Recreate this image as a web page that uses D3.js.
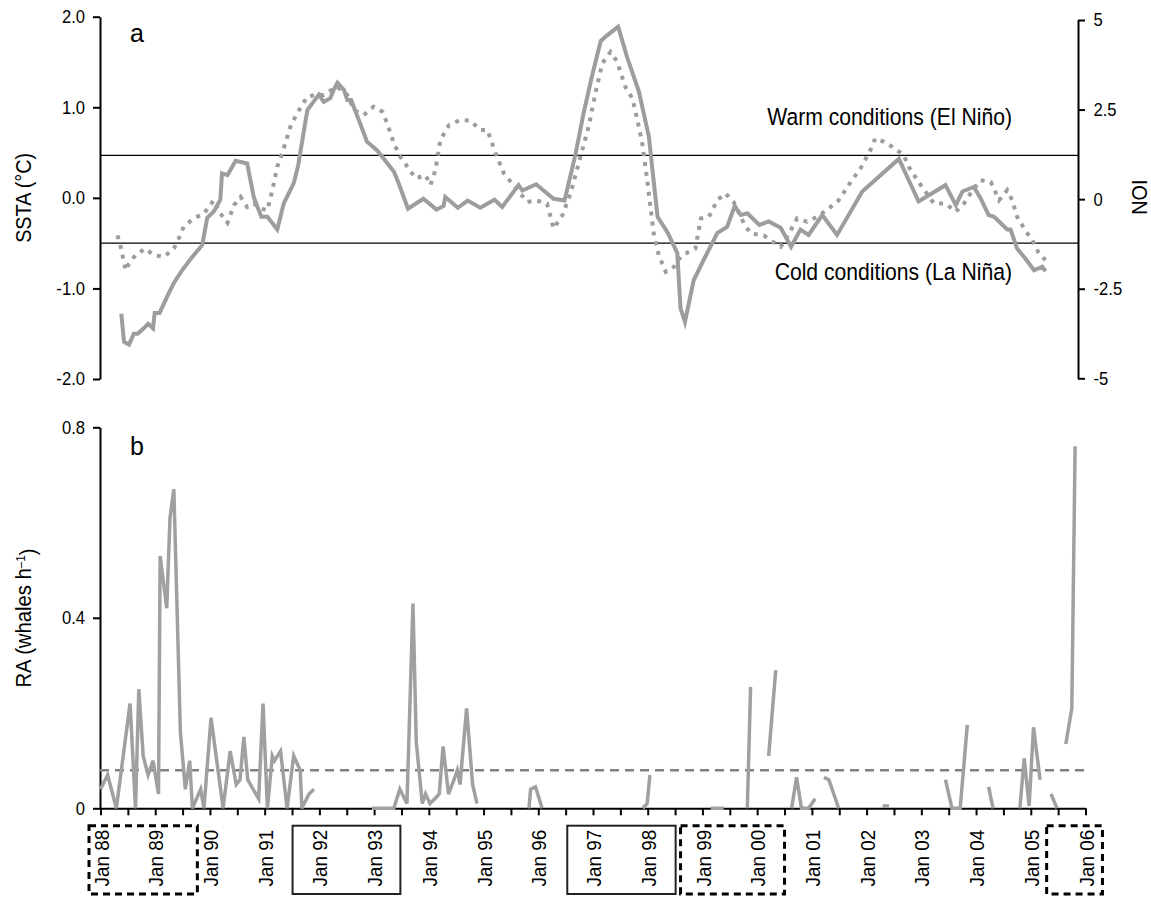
<!DOCTYPE html>
<html>
<head>
<meta charset="utf-8">
<script src="https://cdn.jsdelivr.net/npm/d3@7"></script>
<style>
  body { margin: 0; background: #fff; }
  svg { display: block; }
  text { font-family: "Liberation Sans", Arial, sans-serif; fill: #000; }
</style>
</head>
<body>
<div id="chart"></div>
<script>
// panel a: sea surface temperature anomaly (solid) and NOI (dotted)
const sstaYears = [1988.38,1988.43,1988.52,1988.61,1988.68,1988.79,1988.87,1988.96,1988.99,1989.08,
  1989.25,1989.34,1989.49,1989.68,1989.86,1989.95,1990.07,1990.19,1990.22,1990.32,
  1990.47,1990.68,1990.80,1990.94,1991.05,1991.23,1991.35,1991.53,1991.61,1991.78,
  1991.99,1992.08,1992.20,1992.26,1992.33,1992.45,1992.51,1992.58,1992.72,1992.87,
  1993.06,1993.36,1993.45,1993.54,1993.62,1993.90,1994.14,1994.27,1994.30,1994.53,
  1994.71,1994.94,1995.20,1995.34,1995.64,1995.71,1995.96,1996.28,1996.48,1996.68,
  1996.83,1996.98,1997.14,1997.23,1997.46,1997.62,1997.84,1998.02,1998.18,1998.37,
  1998.54,1998.60,1998.68,1998.84,1999.01,1999.27,1999.45,1999.59,1999.70,1999.82,
  2000.04,2000.21,2000.43,2000.62,2000.79,2000.94,2001.19,2001.46,2001.92,2002.59,
  2002.95,2003.44,2003.63,2003.75,2003.96,2004.08,2004.23,2004.33,2004.57,2004.63,
  2004.75,2004.90,2005.06,2005.21,2005.27];
const sstaValues = [-1.28,-1.59,-1.62,-1.50,-1.50,-1.44,-1.39,-1.44,-1.27,-1.27,
  -1.05,-0.94,-0.80,-0.65,-0.52,-0.22,-0.15,-0.02,0.27,0.25,
  0.41,0.38,0.01,-0.21,-0.21,-0.35,-0.06,0.16,0.35,0.97,
  1.14,1.06,1.10,1.19,1.27,1.19,1.08,1.08,0.86,0.62,
  0.52,0.29,0.16,0.01,-0.12,-0.01,-0.13,-0.09,0.01,-0.11,
  -0.03,-0.11,-0.02,-0.10,0.14,0.08,0.15,-0.01,-0.03,0.48,
  0.94,1.34,1.73,1.78,1.89,1.56,1.17,0.68,-0.21,-0.39,
  -0.61,-1.22,-1.37,-0.91,-0.70,-0.39,-0.32,-0.09,-0.19,-0.17,
  -0.30,-0.26,-0.33,-0.54,-0.35,-0.41,-0.19,-0.41,0.07,0.43,
  -0.04,0.14,-0.08,0.07,0.12,0.00,-0.19,-0.21,-0.35,-0.35,
  -0.56,-0.67,-0.80,-0.76,-0.81];

const noiYears = [1988.31,1988.37,1988.46,1988.52,1988.64,1988.82,1988.97,1989.16,1989.34,1989.43,
  1989.52,1989.70,1989.89,1990.07,1990.19,1990.32,1990.44,1990.56,1990.68,1990.80,
  1990.92,1991.05,1991.14,1991.23,1991.32,1991.47,1991.59,1991.78,1991.93,1992.08,
  1992.32,1992.51,1992.63,1992.81,1992.99,1993.15,1993.24,1993.36,1993.48,1993.61,
  1993.76,1993.94,1994.03,1994.12,1994.21,1994.37,1994.58,1994.76,1994.94,1995.07,
  1995.22,1995.37,1995.55,1995.80,1995.95,1996.16,1996.28,1996.44,1996.59,1996.77,
  1996.92,1997.05,1997.17,1997.32,1997.44,1997.59,1997.72,1997.81,1997.90,1997.99,
  1998.11,1998.20,1998.33,1998.48,1998.60,1998.75,1998.87,1998.97,1999.12,1999.27,
  1999.42,1999.57,1999.76,1999.88,2000.12,2000.37,2000.43,2000.58,2000.73,2000.91,
  2001.10,2001.31,2001.49,2001.71,2001.89,2002.07,2002.16,2002.32,2002.47,2002.68,
  2002.77,2002.99,2003.23,2003.44,2003.63,2003.78,2003.90,2004.08,2004.27,2004.42,
  2004.57,2004.66,2004.75,2004.90,2005.03,2005.15,2005.27];
const noiValues = [-1.01,-1.33,-1.99,-1.80,-1.56,-1.38,-1.56,-1.61,-1.38,-1.10,
  -0.77,-0.54,-0.40,-0.03,-0.40,-0.66,-0.17,0.06,-0.22,-0.12,
  -0.26,-0.31,0.25,0.90,1.28,2.02,2.39,2.86,2.91,2.91,
  3.14,2.91,2.49,2.35,2.58,2.44,2.11,1.56,1.18,0.90,
  0.58,0.67,0.39,0.81,1.65,2.07,2.21,2.19,1.93,1.93,
  1.28,0.72,0.39,-0.08,-0.03,-0.12,-0.82,-0.45,0.16,1.18,
  2.02,3.00,3.79,4.11,3.84,3.14,2.81,2.21,1.56,0.53,
  -0.96,-1.56,-2.03,-1.89,-1.61,-1.47,-1.38,-0.54,-0.49,-0.03,
  0.16,-0.08,-0.68,-0.96,-1.01,-1.28,-1.33,-0.96,-0.54,-0.63,
  -0.49,-0.26,-0.03,0.48,0.86,1.37,1.70,1.60,1.46,1.23,
  0.90,0.39,-0.12,-0.12,-0.35,-0.12,0.16,0.53,0.48,-0.03,
  0.25,-0.03,-0.49,-0.87,-1.15,-1.52,-1.70];

const warmThreshold = 0.47;  // °C
const coldThreshold = -0.5;

// panel b: relative abundance, null = no survey
const raYears = [1988.00,1988.13,1988.29,1988.54,1988.64,1988.70,1988.78,1988.87,1988.96,1989.06,
  1989.09,1989.21,1989.27,1989.34,1989.46,1989.55,1989.63,1989.68,1989.83,1989.89,
  1990.02,1990.24,1990.37,1990.48,1990.55,1990.62,1990.69,1990.89,1990.97,1991.05,
  1991.14,1991.18,1991.29,1991.41,1991.53,1991.65,1991.68,1991.81,1991.90,
  1992.40,
  1992.96,1993.36,1993.47,1993.60,1993.71,1993.77,1993.88,1993.94,1994.02,1994.11,
  1994.19,1994.26,1994.36,1994.46,1994.52,1994.57,1994.69,1994.80,1994.88,
  1995.30,
  1995.83,1995.86,1995.95,1996.07,
  1997.00,
  1997.91,1997.99,1998.04,
  1998.60,
  1999.15,1999.39,
  1999.60,
  1999.82,1999.88,
  2000.05,
  2000.21,2000.34,
  2000.50,
  2000.63,2000.72,2000.81,2000.94,2001.06,
  2001.14,
  2001.22,2001.31,2001.49,
  2001.90,
  2002.29,2002.41,
  2003.00,
  2003.44,2003.56,2003.71,2003.84,
  2004.00,
  2004.23,2004.31,
  2004.60,
  2004.80,2004.88,2004.97,2005.05,2005.17,
  2005.27,
  2005.37,2005.48,
  2005.56,
  2005.64,2005.75,2005.81];
const raValues = [0.04,0.07,0,0.22,0,0.25,0.11,0.07,0.10,0.03,
  0.53,0.42,0.61,0.67,0.16,0.04,0.10,0,0.04,0,
  0.19,0,0.12,0.05,0.06,0.15,0.06,0.02,0.22,0,
  0.11,0.10,0.12,0,0.11,0.08,0,0.03,0.04,
  null,
  0,0,0.04,0.01,0.43,0.14,0.01,0.03,0.01,0.02,
  0.03,0.13,0.03,0.06,0.08,0.05,0.21,0.05,0.01,
  null,
  0,0.04,0.045,0,
  null,
  0,0.01,0.07,
  null,
  0,0,
  null,
  0,0.255,
  null,
  0.11,0.29,
  null,
  0,0.065,0,0,0.02,
  null,
  0.065,0.06,0,
  null,
  0.005,0.005,
  null,
  0.06,0,0,0.175,
  null,
  0.045,0,
  null,
  0,0.105,0.005,0.17,0.06,
  null,
  0.03,0,
  null,
  0.135,0.21,0.76];
const raMean = 0.08;

// x axis ticks every six months, labels on each January
const xTicks = d3.range(1988, 2006.01, 0.5);
const xTickLabels = ["Jan 88","Jan 89","Jan 90","Jan 91","Jan 92","Jan 93","Jan 94","Jan 95","Jan 96",
  "Jan 97","Jan 98","Jan 99","Jan 00","Jan 01","Jan 02","Jan 03","Jan 04","Jan 05","Jan 06"];
const sstaTicks = [-2, -1, 0, 1, 2];
const noiTicks = [-5, -2.5, 0, 2.5, 5];
const raTicks = [0, 0.4, 0.8];

// ENSO periods boxed under the axis (dashed = La Niña, solid = El Niño)
const periodStart = [1987.79, 1991.51, 1996.53, 1998.60, 2005.29];
const periodEnd   = [1989.77, 1993.48, 1998.51, 2000.50, 2006.31];
const periodDashed = [true, false, false, true, true];

const W = 1151, H = 897;
const lineGrey = "#9d9d9d";
const condense = "scale(0.9,1)";

const svg = d3.select("#chart").append("svg")
  .attr("width", W).attr("height", H)
  .attr("viewBox", `0 0 ${W} ${H}`);

const x = d3.scaleLinear().domain([1988, 2006]).range([100.5, 1085.5]);
const ySsta = d3.scaleLinear().domain([-2, 2]).range([379, 16.7]);
const yNoi = d3.scaleLinear().domain([-5, 5]).range([378.3, 20]);
const yRa = d3.scaleLinear().domain([0, 0.8]).range([808.3, 427.3]);

const axisLeftX = 100, axisRightX = 1078;

function styleAxis(g) {
  g.select(".domain").attr("stroke", "#000").attr("stroke-width", 2);
  g.selectAll(".tick line").attr("stroke", "#000").attr("stroke-width", 2);
  g.selectAll(".tick text").style("font-size", "18.5px").attr("fill", "#1a1a1a");
}

// ---- panel a ----
const gA = svg.append("g");

gA.append("g")
  .attr("transform", `translate(${axisLeftX},0)`)
  .call(d3.axisLeft(ySsta).tickValues(sstaTicks).tickFormat(d => d.toFixed(1))
    .tickSize(7).tickSizeOuter(0).tickPadding(8))
  .call(styleAxis)
  .call(g => g.selectAll(".tick text").attr("x", -15 / 0.9).attr("transform", condense));

gA.append("g")
  .attr("transform", `translate(${axisRightX},0)`)
  .call(d3.axisRight(yNoi).tickValues(noiTicks).tickFormat(d => String(d))
    .tickSize(7).tickSizeOuter(0).tickPadding(8))
  .call(styleAxis)
  .call(g => g.selectAll(".tick text").attr("x", 15.5 / 0.9).attr("transform", condense));

// threshold lines
[warmThreshold, coldThreshold].forEach(t => {
  gA.append("line")
    .attr("x1", axisLeftX).attr("x2", axisRightX)
    .attr("y1", ySsta(t)).attr("y2", ySsta(t))
    .attr("stroke", "#000").attr("stroke-width", 1.3);
});

gA.append("text")
  .attr("transform", `translate(1012,${ySsta(warmThreshold) - 30}) ${condense}`)
  .attr("text-anchor", "end").style("font-size", "23.5px")
  .text("Warm conditions (El Niño)");

gA.append("text")
  .attr("transform", `translate(1012,${ySsta(coldThreshold) + 37}) ${condense}`)
  .attr("text-anchor", "end").style("font-size", "23.5px")
  .text("Cold conditions (La Niña)");

const noiData = d3.zip(noiYears, noiValues);
gA.append("path")
  .datum(noiData)
  .attr("fill", "none")
  .attr("stroke", lineGrey)
  .attr("stroke-width", 4)
  .attr("stroke-dasharray", "4,6")
  .attr("d", d3.line().x(d => x(d[0])).y(d => yNoi(d[1])));

const sstaData = d3.zip(sstaYears, sstaValues);
gA.append("path")
  .datum(sstaData)
  .attr("fill", "none")
  .attr("stroke", lineGrey)
  .attr("stroke-width", 4)
  .attr("d", d3.line().x(d => x(d[0])).y(d => ySsta(d[1])));

gA.append("text").attr("x", 130).attr("y", 42).style("font-size", "25px").text("a");

gA.append("text")
  .attr("transform", `translate(31,${ySsta(0)}) rotate(-90) ${condense}`)
  .attr("text-anchor", "middle").style("font-size", "22px")
  .text("SSTA (°C)");

gA.append("text")
  .attr("transform", `translate(1146.5,${yNoi(0) - 2}) rotate(-90) ${condense}`)
  .attr("text-anchor", "middle").style("font-size", "22px")
  .text("NOI");

// ---- panel b ----
const gB = svg.append("g");

gB.append("g")
  .attr("transform", `translate(${axisLeftX},0)`)
  .call(d3.axisLeft(yRa).tickValues(raTicks).tickFormat(d => d === 0 ? "0" : d.toFixed(1))
    .tickSize(7).tickSizeOuter(0).tickPadding(8))
  .call(styleAxis)
  .call(g => g.selectAll(".tick text").attr("x", -15 / 0.9).attr("transform", condense));

gB.append("g")
  .attr("transform", `translate(0,${yRa(0)})`)
  .call(d3.axisBottom(x).tickValues(xTicks)
    .tickFormat(d => d % 1 === 0 ? xTickLabels[d - 1988] : "")
    .tickSize(7).tickSizeOuter(0))
  .call(styleAxis)
  .call(g => g.selectAll(".tick text")
    .style("font-size", "21px")
    .attr("text-anchor", "end")
    .attr("x", -21.5 / 0.9).attr("y", 0).attr("dy", "0.36em")
    .attr("transform", `rotate(-90) ${condense}`));

// mean abundance
gB.append("line")
  .attr("x1", axisLeftX).attr("x2", x(2006))
  .attr("y1", yRa(raMean)).attr("y2", yRa(raMean))
  .attr("stroke", "#808080").attr("stroke-width", 2.5)
  .attr("stroke-dasharray", "9,6");

const raData = d3.zip(raYears, raValues);
gB.append("path")
  .datum(raData)
  .attr("fill", "none")
  .attr("stroke", "#a0a0a0")
  .attr("stroke-width", 3.5)
  .attr("d", d3.line().defined(d => d[1] !== null).x(d => x(d[0])).y(d => yRa(d[1])));

gB.append("text").attr("x", 130).attr("y", 455).style("font-size", "25px").text("b");

const raTitle = gB.append("text")
  .attr("transform", `translate(31,618) rotate(-90) ${condense}`)
  .attr("text-anchor", "middle").style("font-size", "22.5px");
raTitle.append("tspan").text("RA (whales h");
raTitle.append("tspan").attr("dy", "-0.45em").style("font-size", "13px").text("–1");
raTitle.append("tspan").attr("dy", "0.45em").text(")");

// boxes around ENSO period labels
const boxTop = 825.7, boxBottom = 894;
periodStart.forEach((s, i) => {
  gB.append("rect")
    .attr("x", x(s)).attr("y", boxTop)
    .attr("width", x(periodEnd[i]) - x(s))
    .attr("height", boxBottom - boxTop)
    .attr("fill", "none")
    .attr("stroke", periodDashed[i] ? "#000" : "#222")
    .attr("stroke-width", periodDashed[i] ? 3 : 2)
    .attr("stroke-dasharray", periodDashed[i] ? "7,5" : null);
});
</script>
</body>
</html>
